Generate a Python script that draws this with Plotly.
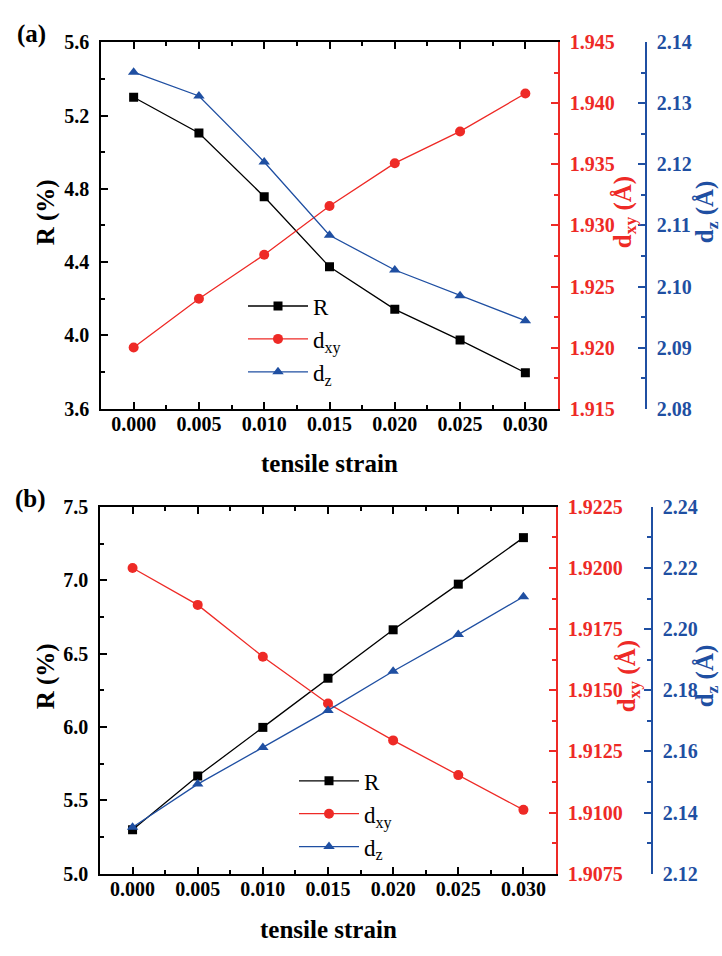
import plotly.graph_objects as go

# ---------------- data ----------------
strain = [0.000, 0.005, 0.010, 0.015, 0.020, 0.025, 0.030]

# panel (a)
R_a   = [5.30, 5.105, 4.757, 4.374, 4.142, 3.974, 3.796]
dxy_a = [1.9200, 1.9240, 1.9276, 1.9316, 1.9351, 1.9377, 1.9408]
dz_a  = [2.1351, 2.1312, 2.1204, 2.1084, 2.1027, 2.0985, 2.0944]

# panel (b)
R_b   = [5.30, 5.665, 5.997, 6.332, 6.662, 6.973, 7.29]
dxy_b = [1.9200, 1.91849, 1.91637, 1.91446, 1.91295, 1.91153, 1.91011]
dz_b  = [2.1352, 2.1493, 2.1613, 2.1734, 2.1862, 2.1982, 2.2106]

series_names = ["R", "d<sub>xy</sub>", "d<sub>z</sub>"]

# ---------------- styles ----------------
W, H = 722, 956
BLACK = "#000000"
RED = "#ee2a26"
BLUE = "#1f4fa2"
SERIF = "'Liberation Serif', 'Times New Roman', Times, serif"

def px(x):
    return x / W

def py(y):
    return 1 - y / H

tick_font = lambda c: dict(family=SERIF, size=20, color=c, weight="bold")

fig = go.Figure()

def add_panel(xa, ya_R, ya_r, ya_b, R, dxy, dz, legend):
    fig.add_trace(go.Scatter(x=strain, y=R, mode="lines+markers", name=series_names[0],
                             line=dict(color=BLACK, width=1.3),
                             marker=dict(symbol="square", size=9, color=BLACK),
                             xaxis=xa, yaxis=ya_R, legend=legend))
    fig.add_trace(go.Scatter(x=strain, y=dxy, mode="lines+markers", name=series_names[1],
                             line=dict(color=RED, width=1.3),
                             marker=dict(symbol="circle", size=10, color=RED),
                             xaxis=xa, yaxis=ya_r, legend=legend))
    fig.add_trace(go.Scatter(x=strain, y=dz, mode="lines+markers", name=series_names[2],
                             line=dict(color=BLUE, width=1.3),
                             marker=dict(symbol="triangle-up", size=10, color=BLUE),
                             xaxis=xa, yaxis=ya_b, legend=legend))

add_panel("x", "y", "y2", "y3", R_a, dxy_a, dz_a, "legend")
add_panel("x2", "y4", "y5", "y6", R_b, dxy_b, dz_b, "legend2")

def xaxis_cfg(domain, anchor):
    return dict(domain=domain, anchor=anchor, range=[-0.0025, 0.0325],
                tickmode="linear", tick0=0, dtick=0.005, tickformat=".3f",
                ticks="inside", ticklen=7, tickwidth=1.5, tickcolor=BLACK,
                minor=dict(ticks="inside", ticklen=4, dtick=0.0025, tick0=0,
                           tickcolor=BLACK, tickwidth=1.5),
                showline=True, linecolor=BLACK, linewidth=1.5, mirror="ticks",
                showgrid=False, zeroline=False, tickfont=tick_font(BLACK),
                ticklabelstandoff=-3)

def yaxis_cfg(domain, anchor, rng, dtick, fmt, color, side="left",
              overlaying=None, position=None):
    d = dict(domain=domain, range=rng, tickmode="linear", tick0=rng[0], dtick=dtick,
             tickformat=fmt, ticks="inside", ticklen=7, tickwidth=1.5, tickcolor=color,
             minor=dict(ticks="inside", ticklen=4, dtick=dtick / 2, tick0=rng[0],
                        tickcolor=color, tickwidth=1.5),
             showline=True, linecolor=color, linewidth=1.5, showgrid=False,
             zeroline=False, tickfont=tick_font(color), side=side,
             ticklabelstandoff=6)
    if overlaying:
        d["overlaying"] = overlaying
    if position is not None:
        d["anchor"] = "free"
        d["position"] = position
    else:
        d["anchor"] = anchor
    return d

dom_xa = [px(101), px(558)]
dom_ya = [py(407), py(32)]
dom_xb = [px(100), px(556)]
dom_yb = [py(883), py(507.5)]

leg_font = dict(family=SERIF, size=23, color=BLACK)

fig.update_layout(
    width=W, height=H,
    margin=dict(l=0, r=0, t=0, b=0),
    paper_bgcolor="white", plot_bgcolor="white",
    showlegend=True,
    xaxis=xaxis_cfg(dom_xa, "y"),
    yaxis=yaxis_cfg(dom_ya, "x", [3.6, 5.6], 0.4, ".1f", BLACK),
    yaxis2=yaxis_cfg(dom_ya, "x", [1.915, 1.945], 0.005, ".3f", RED,
                     side="right", overlaying="y"),
    yaxis3=yaxis_cfg(dom_ya, "x", [2.08, 2.14], 0.01, ".2f", BLUE,
                     side="right", overlaying="y", position=px(646)),
    xaxis2=xaxis_cfg(dom_xb, "y4"),
    yaxis4=yaxis_cfg(dom_yb, "x2", [5.0, 7.5], 0.5, ".1f", BLACK),
    yaxis5=yaxis_cfg(dom_yb, "x2", [1.9075, 1.9225], 0.0025, ".4f", RED,
                     side="right", overlaying="y4"),
    yaxis6=yaxis_cfg(dom_yb, "x2", [2.12, 2.24], 0.02, ".2f", BLUE,
                     side="right", overlaying="y4", position=px(652)),
    legend=dict(x=px(243), y=py(280), xanchor="left", yanchor="top",
                bgcolor="rgba(0,0,0,0)", font=leg_font, itemwidth=60,
                tracegroupgap=0),
    legend2=dict(x=px(294), y=py(766), xanchor="left", yanchor="top",
                 bgcolor="rgba(0,0,0,0)", font=leg_font, itemwidth=60,
                 tracegroupgap=0),
)

title_font = lambda c: dict(family=SERIF, size=25, color=c, weight="bold")

annots = [
    # panel labels
    dict(text="(a)", x=px(31), y=py(24), font=title_font(BLACK)),
    dict(text="(b)", x=px(30), y=py(499), font=title_font(BLACK)),
    # panel (a) titles
    dict(text="tensile strain", x=px(329.5), y=py(463), font=title_font(BLACK)),
    dict(text="R (%)", x=px(46), y=py(206), textangle=-90, font=title_font(BLACK)),
    dict(text="d<sub>xy</sub> (Å)", x=px(624), y=py(206), textangle=-90, font=title_font(RED)),
    dict(text="d<sub>z</sub> (Å)", x=px(706), y=py(206), textangle=-90, font=title_font(BLUE)),
    # panel (b) titles
    dict(text="tensile strain", x=px(328), y=py(940), font=title_font(BLACK)),
    dict(text="R (%)", x=px(46), y=py(681), textangle=-90, font=title_font(BLACK)),
    dict(text="d<sub>xy</sub> (Å)", x=px(628), y=py(681), textangle=-90, font=title_font(RED)),
    dict(text="d<sub>z</sub> (Å)", x=px(706), y=py(681), textangle=-90, font=title_font(BLUE)),
]
for a in annots:
    a.update(xref="paper", yref="paper", showarrow=False, xanchor="center", yanchor="middle")
fig.update_layout(annotations=annots)

fig.write_html("out.html")
